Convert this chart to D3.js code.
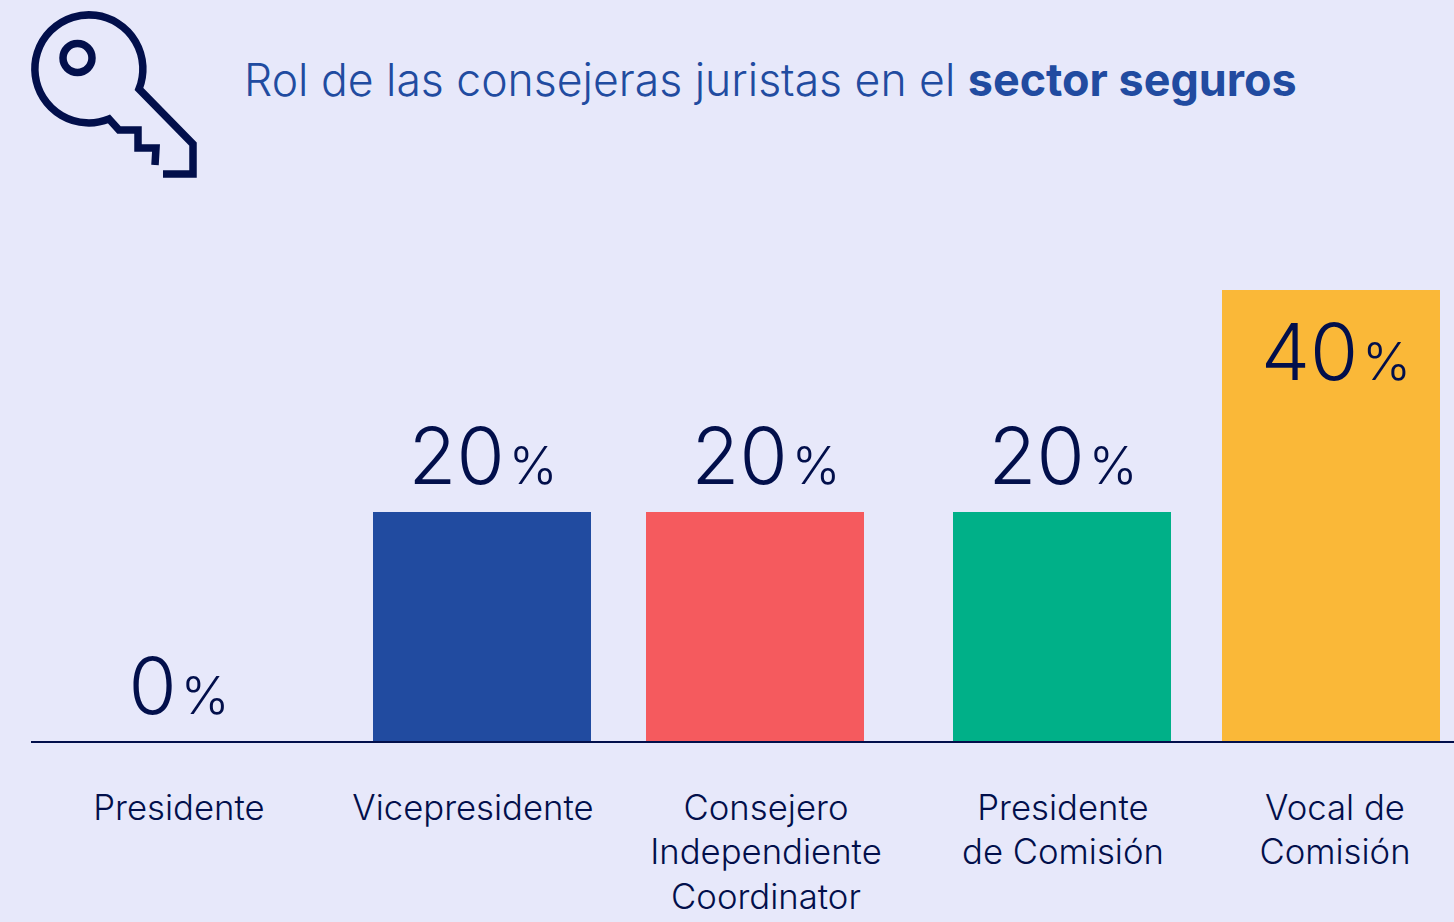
<!DOCTYPE html>
<html><head><meta charset="utf-8">
<script src="https://cdn.jsdelivr.net/npm/d3@7/dist/d3.min.js"></script>
<style>html,body{margin:0;padding:0;background:#e7e8fa;overflow:hidden}svg{display:block}text{font-family:Inter,"Noto Sans",sans-serif}</style>
</head><body><svg id="c" width="1454" height="922"></svg>
<script>
const categories=["Presidente","Vicepresidente","Consejero Independiente Coordinator","Presidente de Comisión","Vocal de Comisión"];
const labelLines=[["Presidente"],["Vicepresidente"],["Consejero","Independiente","Coordinator"],["Presidente","de Comisión"],["Vocal de","Comisión"]];
const values=[0,20,20,20,40];
const colors=["#214ba0","#214ba0","#f55a5e","#00b088","#fab838"];
const barX=[155,373,646,953,1222];
const labelX=[179,473,766,1063,1335];
const valueX=[179,483,766,1063,1336];
const svg=d3.select("#c");
const y=d3.scaleLinear().domain([0,20,40]).range([742,512,290]);
svg.selectAll("rect.bar").data(values).join("rect").attr("class","bar")
 .attr("x",(d,i)=>barX[i]).attr("width",218).attr("y",d=>y(d)).attr("height",d=>y(0)-y(d)).attr("fill",(d,i)=>colors[i]);
svg.append("line").attr("x1",31).attr("x2",1454).attr("y1",742).attr("y2",742).attr("stroke","#020f4b").attr("stroke-width",2);
const vt=svg.selectAll("text.v").data(values).join("text").attr("class","v").attr("fill","#020f4b")
 .attr("text-anchor","middle").attr("x",(d,i)=>valueX[i]).attr("y",d=>d==40?y(d)+90:y(d)-28);
vt.append("tspan").attr("font-size",78).attr("font-weight",300).text(d=>d);
vt.append("tspan").attr("font-size",52).attr("font-weight",300).attr("dx",4).text("%");
labelLines.forEach((ls,i)=>{ls.forEach((l,j)=>{svg.append("text").attr("x",labelX[i]).attr("y",820+j*44.3).attr("text-anchor","middle").attr("font-size",34.7).attr("font-weight",300).attr("fill","#020f4b").text(l);});});
const t=svg.append("text").attr("x",244).attr("y",96).attr("fill","#214ba0");
t.append("tspan").attr("font-size",44.5).attr("font-weight",300).text("Rol de las consejeras juristas en el ");
t.append("tspan").attr("font-size",44.9).attr("font-weight",700).text("sector seguros");
const g=svg.append("g").attr("fill","none").attr("stroke","#020f4b").attr("stroke-width",7.5);
g.append("path").attr("d","M155 165L156 148H138V130H119L109 119A54 54 0 1 1 139 89L193 144V174H163");
g.append("circle").attr("cx",77.5).attr("cy",58).attr("r",14.5);
</script></body></html>
